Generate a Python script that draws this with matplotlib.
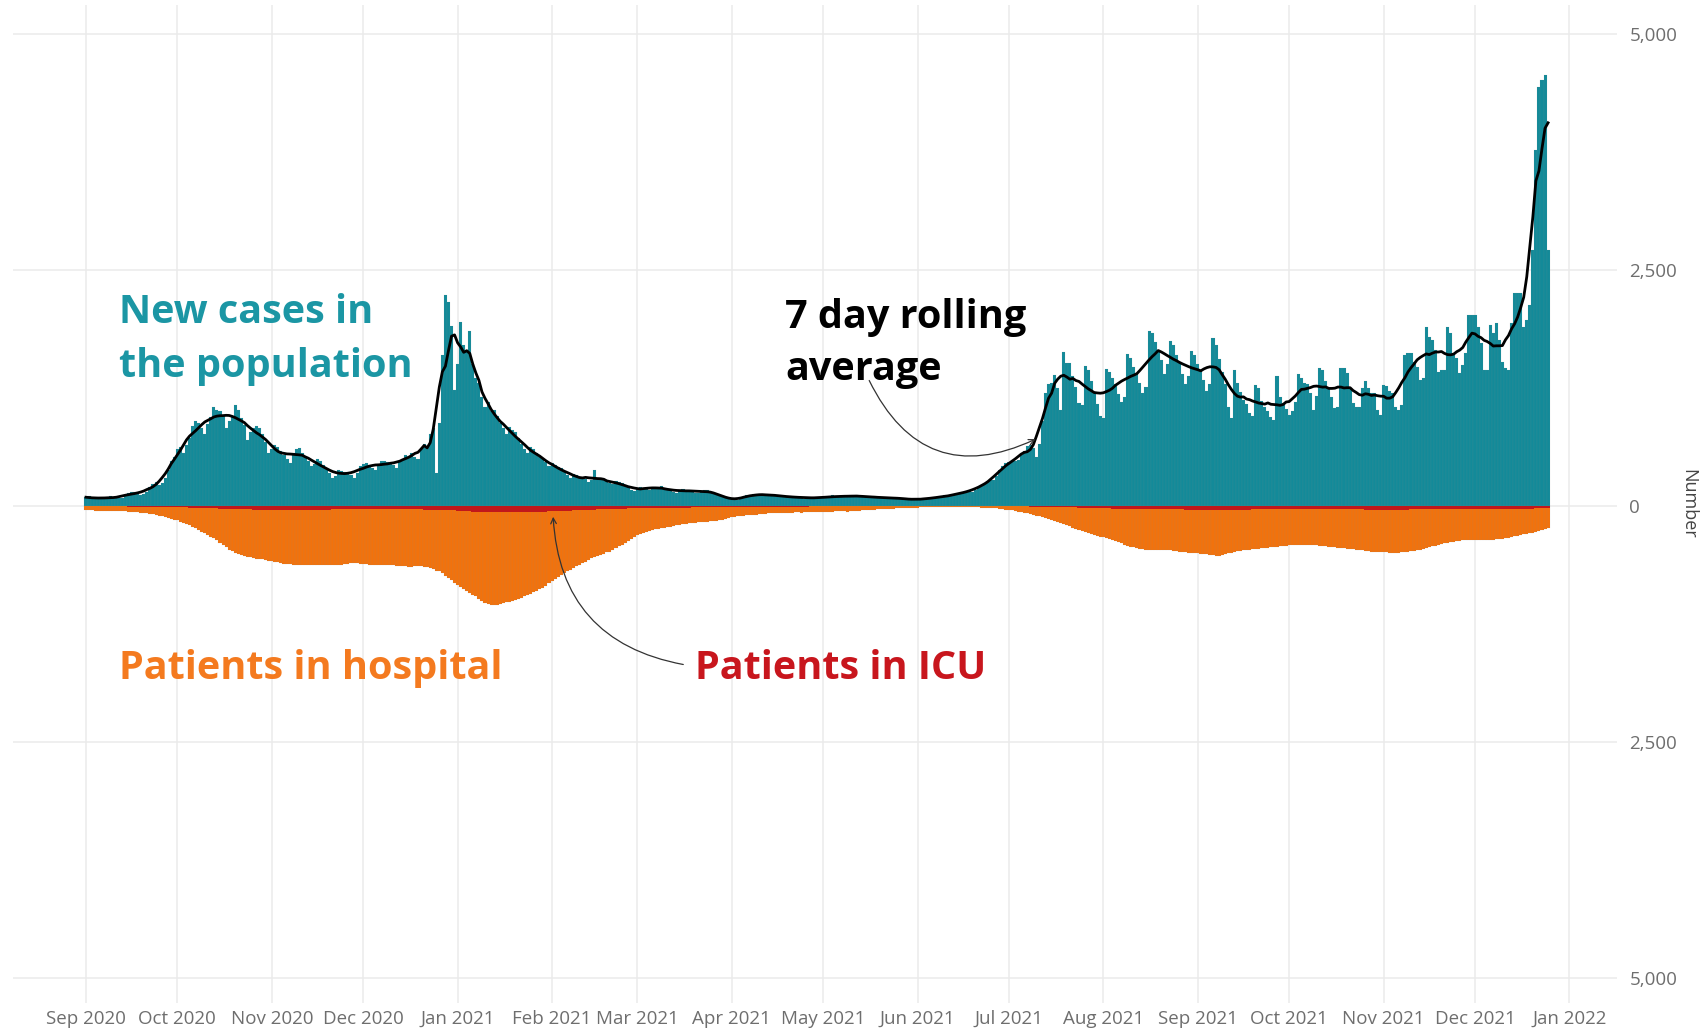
import pandas as pd
import matplotlib
matplotlib.use('Agg')
import matplotlib.pyplot as plt
from matplotlib.ticker import FuncFormatter

# daily values from 1 Sep 2020 to 25 Dec 2021, one line per month
new_cases = [
    95, 100, 90, 80, 75, 70, 75, 90, 100, 95, 90, 80, 85, 100, 140, 150, 145, 130, 120, 130, 150, 200, 230, 250, 220, 240, 300, 380, 470, 520,
    600, 620, 560, 640, 720, 850, 900, 880, 820, 760, 870, 940, 1050, 1020, 1000, 950, 820, 900, 950, 1070, 1010, 930, 860, 700, 780, 820, 850, 820, 760, 680, 560,
    600, 640, 620, 580, 540, 500, 450, 560, 600, 610, 560, 520, 480, 420, 440, 500, 470, 430, 390, 350, 300, 320, 380, 370, 360, 340, 330, 290, 350, 420,
    440, 450, 430, 400, 380, 420, 470, 480, 460, 450, 430, 400, 470, 500, 540, 520, 560, 520, 500, 600, 650, 620, 760, 820, 350, 880, 1600, 2235, 2160, 1900, 1230,
    1500, 1950, 1700, 1650, 1850, 1500, 1350, 1300, 1150, 1050, 1100, 1000, 1020, 950, 880, 820, 760, 830, 800, 780, 720, 650, 600, 560, 620, 600, 560, 520, 500, 460, 420,
    450, 430, 410, 400, 360, 330, 300, 340, 330, 310, 290, 280, 250, 270, 380, 300, 290, 270, 260, 240, 230, 260, 250, 240, 220, 200, 170, 160,
    180, 200, 190, 180, 170, 200, 180, 200, 210, 190, 170, 160, 150, 140, 170, 180, 170, 160, 150, 140, 140, 160, 170, 165, 150, 140, 120, 110, 100, 90, 80,
    70, 65, 60, 70, 90, 110, 120, 130, 115, 110, 100, 120, 130, 125, 115, 105, 95, 90, 100, 105, 100, 95, 85, 80, 75, 90, 95, 90, 85, 80,
    80, 85, 100, 110, 105, 100, 95, 90, 95, 110, 115, 110, 105, 100, 90, 85, 95, 100, 95, 90, 85, 80, 75, 85, 90, 85, 80, 75, 65, 60, 65,
    70, 75, 80, 75, 70, 80, 85, 95, 100, 110, 105, 100, 110, 120, 140, 150, 160, 155, 150, 170, 190, 220, 240, 260, 280, 270, 320, 380, 420, 450,
    460, 480, 470, 490, 540, 580, 630, 640, 610, 520, 650, 900, 1200, 1290, 1300, 1390, 1250, 1020, 1630, 1510, 1510, 1370, 1260, 1090, 1070, 1480, 1440, 1320, 1200, 1080, 950,
    930, 1450, 1420, 1350, 1290, 1180, 1100, 1150, 1610, 1570, 1470, 1400, 1300, 1190, 1260, 1850, 1830, 1740, 1650, 1540, 1400, 1500, 1750, 1700, 1600, 1520, 1400, 1290, 1370, 1640, 1600,
    1500, 1430, 1330, 1220, 1290, 1780, 1700, 1560, 1420, 1290, 1050, 930, 1440, 1300, 1210, 1120, 1080, 980, 950, 1280, 1250, 1110, 1050, 1000, 940, 910, 1370, 1150, 1090, 1030,
    960, 1000, 1100, 1400, 1350, 1300, 1290, 1190, 1020, 1160, 1460, 1440, 1320, 1250, 1150, 1034, 1052, 1458, 1458, 1405, 1246, 1087, 1052, 1052, 1246, 1317, 1246, 1200, 1193, 1017, 964,
    1281, 1264, 1211, 1193, 1052, 1017, 1070, 1599, 1617, 1617, 1528, 1475, 1334, 1352, 1899, 1793, 1758, 1652, 1422, 1440, 1440, 1899, 1829, 1617, 1564, 1405, 1493, 1617, 2023, 2023,
    2023, 1899, 1723, 1440, 1440, 1917, 1829, 1934, 1758, 1528, 1458, 1440, 1934, 2252, 2252, 2252, 1899, 1970, 2128, 2711, 3770, 4440, 4510, 4565, 2711,
]

in_hospital = [
    45, 47, 48, 50, 50, 51, 52, 52, 53, 53, 54, 55, 57, 58, 60, 62, 65, 68, 72, 76, 80, 85, 90, 96, 103, 110, 118, 126, 135, 145,
    155, 166, 178, 190, 205, 220, 237, 255, 272, 290, 308, 325, 343, 365, 390, 415, 440, 466, 480, 495, 508, 518, 527, 537, 545, 552, 558, 563, 568, 572, 580,
    588, 595, 600, 607, 612, 616, 620, 622, 625, 627, 628, 626, 625, 624, 625, 626, 627, 625, 624, 622, 624, 626, 625, 622, 618, 614, 610, 607, 608, 612,
    616, 620, 623, 625, 626, 627, 626, 625, 624, 625, 628, 632, 636, 640, 642, 644, 643, 642, 641, 642, 645, 650, 660, 672, 685, 695, 715, 740, 765, 790, 812,
    835, 858, 880, 900, 920, 940, 960, 985, 1005, 1025, 1040, 1048, 1050, 1045, 1038, 1030, 1022, 1014, 1005, 995, 985, 972, 958, 942, 930, 915, 900, 885, 865, 845, 822,
    800, 778, 756, 735, 713, 695, 677, 660, 642, 625, 607, 590, 572, 555, 540, 528, 516, 505, 494, 484, 466, 448, 430, 412, 395, 375, 355, 330,
    310, 298, 287, 276, 265, 254, 248, 242, 236, 230, 224, 219, 213, 207, 201, 195, 189, 184, 181, 178, 175, 172, 169, 166, 163, 160, 157, 154, 148, 140, 130,
    122, 115, 110, 106, 103, 100, 97, 95, 92, 89, 86, 83, 80, 78, 76, 75, 74, 73, 72, 71, 71, 70, 70, 71, 70, 68, 66, 64, 62, 60,
    60, 60, 61, 60, 59, 58, 57, 58, 60, 59, 57, 54, 51, 48, 45, 43, 41, 39, 37, 35, 33, 32, 31, 29, 28, 26, 25, 23, 22, 20, 19,
    18, 17, 17, 16, 16, 15, 15, 14, 14, 14, 14, 13, 14, 14, 15, 15, 15, 16, 16, 17, 17, 18, 19, 21, 23, 25, 28, 32, 36, 40,
    44, 48, 55, 60, 66, 72, 80, 88, 95, 103, 112, 121, 130, 139, 148, 157, 166, 178, 190, 203, 216, 230, 242, 254, 266, 278, 290, 300, 310, 318, 325,
    332, 340, 350, 360, 372, 385, 398, 410, 422, 432, 440, 448, 455, 461, 466, 468, 469, 468, 467, 466, 466, 468, 471, 475, 480, 484, 488, 492, 495, 498, 501,
    504, 508, 512, 515, 519, 524, 530, 526, 518, 510, 501, 495, 489, 483, 477, 471, 466, 463, 460, 456, 452, 448, 446, 443, 440, 437, 433, 430, 427, 424,
    420, 417, 414, 412, 411, 410, 410, 412, 415, 419, 423, 427, 430, 433, 437, 440, 444, 448, 451, 455, 458, 462, 466, 469, 472, 476, 480, 484, 486, 488, 490,
    492, 494, 495, 496, 496, 495, 494, 492, 488, 483, 477, 471, 466, 458, 449, 440, 430, 421, 413, 405, 398, 391, 384, 378, 373, 369, 365, 362, 360, 359,
    358, 358, 359, 360, 360, 359, 357, 354, 350, 346, 342, 336, 330, 323, 316, 309, 303, 297, 290, 283, 276, 268, 260, 250, 238,
]

in_icu = [
    5, 5, 5, 5, 5, 5, 5, 6, 6, 6, 6, 6, 6, 6, 7, 7, 7, 7, 8, 8, 8, 9, 9, 10, 10, 11, 11, 12, 12, 13,
    14, 15, 15, 17, 18, 18, 20, 21, 21, 23, 24, 26, 26, 27, 29, 29, 30, 32, 32, 33, 35, 36, 36, 38, 38, 39, 40, 42, 42, 43, 44,
    45, 45, 46, 47, 46, 47, 48, 47, 46, 46, 45, 45, 44, 43, 43, 42, 41, 41, 40, 39, 38, 38, 37, 37, 36, 36, 35, 35, 34, 34,
    34, 33, 33, 33, 32, 32, 33, 33, 34, 34, 34, 35, 35, 36, 36, 36, 37, 37, 38, 38, 39, 39, 40, 40, 40, 41, 42, 43, 45, 47, 49,
    51, 53, 55, 57, 59, 61, 62, 63, 64, 65, 66, 67, 68, 68, 69, 69, 70, 70, 70, 69, 69, 68, 67, 66, 65, 64, 63, 62, 61, 60, 59,
    58, 57, 56, 55, 53, 52, 50, 49, 47, 46, 44, 43, 42, 40, 39, 38, 37, 36, 35, 34, 33, 32, 31, 30, 29, 28, 27, 26,
    26, 25, 25, 24, 24, 23, 23, 22, 22, 21, 21, 20, 20, 19, 19, 18, 18, 18, 17, 17, 17, 16, 16, 16, 15, 15, 15, 14, 14, 14, 13,
    13, 13, 12, 12, 12, 11, 11, 11, 10, 10, 10, 10, 9, 9, 9, 9, 8, 8, 8, 8, 8, 7, 7, 7, 7, 7, 6, 6, 6, 6,
    6, 6, 6, 5, 5, 5, 5, 5, 5, 5, 4, 4, 4, 4, 4, 4, 4, 4, 3, 3, 3, 3, 3, 3, 3, 3, 3, 3, 2, 2, 2,
    2, 2, 2, 2, 2, 2, 2, 2, 2, 2, 2, 2, 2, 2, 2, 2, 2, 2, 2, 3, 3, 3, 3, 3, 3, 3, 3, 4, 4, 4,
    4, 5, 5, 5, 6, 6, 6, 7, 7, 8, 8, 9, 9, 10, 10, 11, 12, 12, 13, 14, 15, 16, 17, 18, 19, 20, 21, 22, 23, 24, 25,
    26, 27, 28, 29, 30, 30, 31, 32, 32, 33, 33, 34, 34, 35, 35, 35, 36, 36, 36, 37, 37, 37, 37, 38, 38, 38, 38, 39, 39, 39, 40,
    40, 40, 41, 41, 41, 41, 42, 42, 42, 41, 41, 41, 40, 40, 40, 39, 39, 39, 38, 38, 38, 37, 37, 37, 36, 36, 36, 36, 35, 35,
    35, 35, 35, 34, 34, 34, 34, 34, 35, 35, 35, 35, 36, 36, 36, 36, 37, 37, 37, 37, 38, 38, 38, 38, 38, 39, 39, 39, 39, 39, 40,
    40, 40, 40, 40, 40, 39, 39, 39, 39, 38, 38, 38, 37, 37, 37, 36, 36, 36, 35, 35, 35, 34, 34, 34, 34, 33, 33, 33, 33, 33,
    33, 33, 33, 32, 32, 32, 32, 32, 31, 31, 31, 31, 30, 30, 30, 30, 29, 29, 29, 29, 28, 28, 28, 28, 28,
]

start_date = '2020-09-01'
assert len(new_cases) == len(in_hospital) == len(in_icu)

TEAL = '#138a99'
ORANGE = '#f2720c'
RED = '#c1171b'
GREY = '#6e6e6e'
EDGE = (0.55, 0.55, 0.55, 0.22)

plt.rcParams['font.family'] = ['Open Sans', 'DejaVu Sans']

df = pd.DataFrame({
    'date': pd.date_range(start_date, periods=len(new_cases), freq='D'),
    'cases': new_cases,
    'hospital': in_hospital,
    'icu': in_icu,
})
df['rolling'] = df['cases'].rolling(7, center=True, min_periods=1).mean()

fig = plt.figure(figsize=(17.04, 10.29), dpi=100)
ax = fig.add_axes([0.00763, 0.02527, 0.94127, 0.96987])

ax.bar(df['date'], df['cases'], width=1.0, color=TEAL, edgecolor=EDGE, linewidth=0.3)
ax.bar(df['date'], -df['hospital'], width=1.0, color=ORANGE, edgecolor=EDGE, linewidth=0.3)
ax.bar(df['date'], -df['icu'], width=1.0, color=RED, linewidth=0)
ax.plot(df['date'], df['rolling'], color='black', lw=2.0)

# axes / grid
t0 = pd.Timestamp(start_date)
ax.set_xlim(t0 - pd.Timedelta(days=23.96), t0 + pd.Timedelta(days=502.6))
ax.set_ylim(-5265, 5304)
ax.set_axisbelow(True)
ax.grid(True, color='#ebebeb', lw=1.1)
for s in ax.spines.values():
    s.set_visible(False)

month_ticks = pd.date_range('2020-09-01', '2022-01-01', freq='MS')
ax.set_xticks(month_ticks)
ax.set_xticklabels([d.strftime('%b %Y') for d in month_ticks])
ax.set_yticks([-5000, -2500, 0, 2500, 5000])
ax.yaxis.set_major_formatter(FuncFormatter(lambda v, p: f'{abs(v):,.0f}'))
ax.yaxis.tick_right()
ax.tick_params(axis='x', length=0, pad=5, labelsize=13.5, labelcolor=GREY)
ax.tick_params(axis='y', length=0, pad=9, labelsize=13.5, labelcolor=GREY)

ax.yaxis.set_label_position('right')
ax.set_ylabel('Number', rotation=270, fontsize=13, color='#444444')
ax.yaxis.set_label_coords(1.0443, 0.5)
ax.yaxis.label.set_va('center')
ax.yaxis.label.set_ha('center')

# annotations
W, H = 1704, 1029
def fx(px):
    return px / W
def fy(py):
    return 1 - py / H

big = dict(fontsize=28.5, fontweight='bold', va='baseline', ha='left')
fig.text(fx(119), fy(323), 'New cases in', color='#1b96a4', **big)
fig.text(fx(119), fy(377), 'the population', color='#1b96a4', **big)
fig.text(fx(785), fy(328), '7 day rolling', color='black', **big)
fig.text(fx(785), fy(380), 'average', color='black', **big)
fig.text(fx(119), fy(679), 'Patients in hospital', color='#f47a1f', **big)
fig.text(fx(695), fy(679), 'Patients in ICU', color='#c8161d', **big)

arrow = dict(arrowstyle='->', color='#333333', lw=0.9, mutation_scale=10)
ax.annotate('', xy=(fx(1038), fy(438)), xycoords='figure fraction',
            xytext=(fx(868), fy(378)), textcoords='figure fraction',
            arrowprops=dict(connectionstyle='arc3,rad=0.5', **arrow))
ax.annotate('', xy=(fx(553), fy(514)), xycoords='figure fraction',
            xytext=(fx(686), fy(665)), textcoords='figure fraction',
            arrowprops=dict(connectionstyle='arc3,rad=-0.4', **arrow))

fig.savefig('out.png', dpi=100, facecolor='white')
